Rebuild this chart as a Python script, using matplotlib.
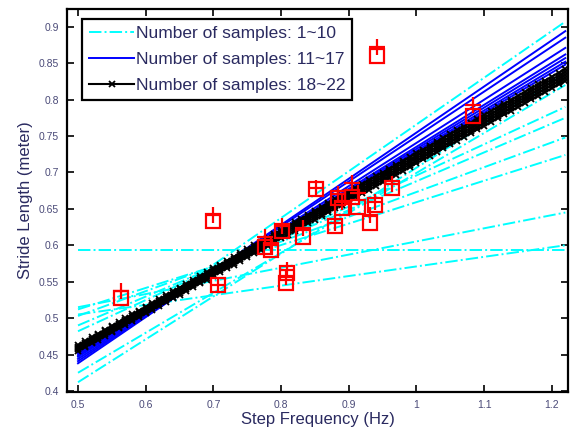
import numpy as np
import matplotlib
matplotlib.use("Agg")
import matplotlib.pyplot as plt

plt.rcParams["font.family"] = ["Liberation Sans", "DejaVu Sans"]

# fitted lines: stride length at the two ends of the frequency range
X_START, X_END = 0.5, 1.22

cyan_start = [0.593, 0.445, 0.412, 0.425, 0.482, 0.490, 0.503, 0.512, 0.515, 0.505]
cyan_end = [0.593, 0.907, 0.836, 0.820, 0.790, 0.775, 0.748, 0.724, 0.645, 0.600]

blue_start = [0.438, 0.441, 0.444, 0.447, 0.449, 0.451, 0.453]
blue_end = [0.894, 0.885, 0.871, 0.862, 0.857, 0.852, 0.848]

black_start = [0.455, 0.457, 0.459, 0.461, 0.463]
black_end = [0.826, 0.830, 0.834, 0.838, 0.842]

# measured samples
sample_freq = [0.5635, 0.700, 0.707, 0.777, 0.785, 0.801, 0.807, 0.809, 0.832, 0.851,
               0.880, 0.884, 0.890, 0.905, 0.914, 0.931, 0.939, 0.964, 0.942, 1.083]
sample_len_sq = [0.527, 0.634, 0.545, 0.598, 0.594, 0.620, 0.548, 0.562, 0.612, 0.677,
                 0.626, 0.665, 0.651, 0.666, 0.652, 0.631, 0.655, 0.678, 0.860, 0.777]
sample_len_plus = [0.537, 0.641, 0.546, 0.612, 0.600, 0.626, 0.557, 0.566, 0.624, 0.679,
                   0.630, 0.670, 0.660, 0.685, 0.672, 0.642, 0.660, 0.684, 0.872, 0.792]

x_ticks = [0.5, 0.6, 0.7, 0.8, 0.9, 1.0, 1.1, 1.2]
x_tick_labels = ["0.5", "0.6", "0.7", "0.8", "0.9", "1", "1.1", "1.2"]
y_ticks = [0.4, 0.45, 0.5, 0.55, 0.6, 0.65, 0.7, 0.75, 0.8, 0.85, 0.9]
y_tick_labels = ["0.4", "0.45", "0.5", "0.55", "0.6", "0.65", "0.7", "0.75", "0.8", "0.85", "0.9"]

fig = plt.figure(figsize=(5.7, 4.33), dpi=100)
ax = fig.add_axes([0.1175, 0.0947, 0.879, 0.885])

xs = np.arange(X_START, X_END + 1e-9, 0.01)


def line_y(a, b):
    return a + (b - a) * (xs - X_START) / (X_END - X_START)


for i, (a, b) in enumerate(zip(cyan_start, cyan_end)):
    ax.plot(xs, line_y(a, b), "-.", color="cyan", lw=1.4,
            label="Number of samples: 1~10" if i == 0 else None)

for i, (a, b) in enumerate(zip(blue_start, blue_end)):
    ax.plot(xs, line_y(a, b), "-", color="blue", lw=1.4,
            label="Number of samples: 11~17" if i == 0 else None)

for i, (a, b) in enumerate(zip(black_start, black_end)):
    ax.plot(xs, line_y(a, b), "-", color="black", lw=1.5, marker="x", ms=5, mew=1.3,
            label="Number of samples: 18~22" if i == 0 else None)

ax.plot(sample_freq, sample_len_plus, "+", color="red", ms=11, mew=1.6, ls="none")
ax.plot(sample_freq, sample_len_sq, "s", color="red", ms=10, mew=1.6, mfc="none", ls="none")

ax.set_xlim(0.4837, 1.224)
ax.set_ylim(0.3986, 0.9247)
ax.set_xticks(x_ticks)
ax.set_xticklabels(x_tick_labels)
ax.set_yticks(y_ticks)
ax.set_yticklabels(y_tick_labels)
ax.tick_params(direction="in", length=5, width=1.2, top=True, right=True,
               labelsize=7.5, labelcolor="#4a4a78", pad=6)
for sp in ax.spines.values():
    sp.set_linewidth(1.6)

ax.set_xlabel("Step Frequency (Hz)", fontsize=12, color="#2a2a60", labelpad=1)
ax.set_ylabel("Stride Length (meter)", fontsize=12, color="#2a2a60", labelpad=4)

leg = ax.legend(loc="upper left", bbox_to_anchor=(0.03, 0.974), fontsize=12.5,
                handlelength=2.6, handletextpad=0.1, labelspacing=0.62,
                borderpad=0.4, borderaxespad=0.0, fancybox=False, framealpha=1,
                edgecolor="black")
leg.get_frame().set_linewidth(1.6)
for t in leg.get_texts():
    t.set_color("#2a2a60")

fig.savefig("out.png", dpi=100)
